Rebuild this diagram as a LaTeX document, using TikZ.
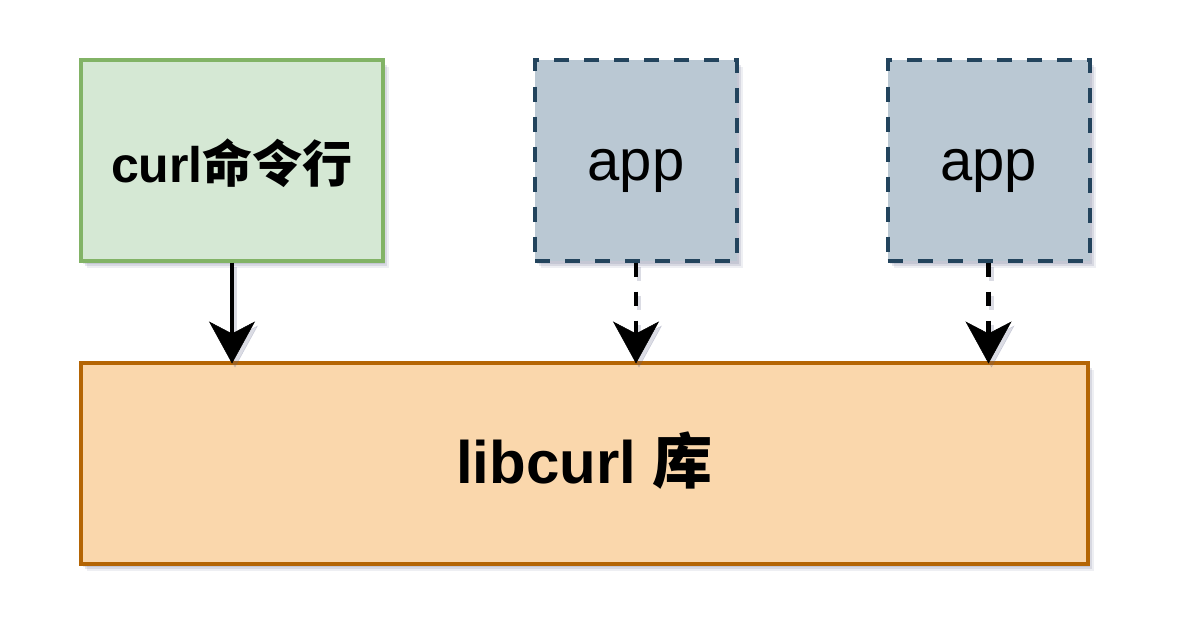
\documentclass[tikz,border=0pt]{standalone}
\usepackage{fontspec}
\setmainfont{Liberation Sans}
\newfontfamily\cjk{Noto Sans CJK SC}
\usetikzlibrary{arrows.meta,shadows}
\definecolor{greenfill}{HTML}{D5E8D4}
\definecolor{greenline}{HTML}{82B366}
\definecolor{appfill}{HTML}{BAC8D3}
\definecolor{appline}{HTML}{23445D}
\definecolor{libfill}{HTML}{FAD7AC}
\definecolor{libline}{HTML}{B46504}
\definecolor{shadowc}{HTML}{5A5F85}
\begin{document}
\begin{tikzpicture}[x=1pt,y=-1pt,
  softshadow/.style={
    general shadow={shadow xshift=6pt,shadow yshift=-7pt,fill=shadowc,opacity=0.10},
    general shadow={shadow xshift=4pt,shadow yshift=-5pt,fill=shadowc,opacity=0.15},
    general shadow={shadow xshift=2pt,shadow yshift=-3pt,fill=shadowc,opacity=0.15}},
  box/.style={draw, line width=4pt, inner sep=0pt, minimum height=200pt, softshadow},
  clibox/.style={box, fill=greenfill, draw=greenline, minimum width=302pt,
    text height=50pt, text depth=6pt, font=\fontsize{50}{60}\selectfont\bfseries},
  appbox/.style={box, fill=appfill, draw=appline, minimum width=202pt,
    dash pattern=on 15pt off 15pt,
    text height=46pt, text depth=6pt, font=\fontsize{58}{68}\selectfont},
  libbox/.style={box, fill=libfill, draw=libline, minimum width=1007pt, minimum height=201pt,
    text height=48pt, text depth=8pt, font=\fontsize{60}{70}\selectfont\bfseries},
  tip/.style={-{Stealth[length=42pt,width=46pt,inset=12pt,line width=0.5pt]}},
  link/.style={tip, line width=4.5pt, black, shorten >=-3pt},
  dlink/.style={link, dash pattern=on 14pt off 15pt},
  linkshadow/.style={transform canvas={shift={(3pt,-4pt)}}, draw=shadowc, opacity=0.22}
]
\useasboundingbox (0,0) rectangle (1180,634);
\node[clibox] (cli) at (232,160.5) {curl{\cjk 命令行}};
\node[appbox] (app1) at (636,160.5) {app};
\node[appbox] (app2) at (988.5,160.5) {app};
\node[libbox] (lib) at (584.5,463) {libcurl {\cjk 库}};
% connector shadows
\draw[link, linkshadow] (cli.south) -- (cli.south |- lib.north);
\draw[dlink, linkshadow] (app1.south) -- (app1.south |- lib.north);
\draw[dlink, linkshadow] (app2.south) -- (app2.south |- lib.north);
% connectors
\draw[link] (cli.south) -- (cli.south |- lib.north);
\draw[dlink] (app1.south) -- (app1.south |- lib.north);
\draw[dlink] (app2.south) -- (app2.south |- lib.north);
\end{tikzpicture}
\end{document}
